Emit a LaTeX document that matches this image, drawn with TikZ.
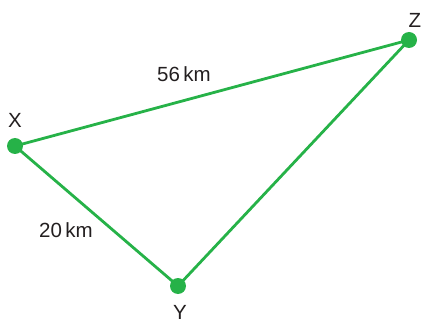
\documentclass[tikz,border=0pt]{standalone}
\usepackage{fontspec}
\setmainfont{Liberation Sans}
\definecolor{routegreen}{RGB}{38,178,72}
\definecolor{inkgray}{RGB}{35,31,32}

\begin{document}
\begin{tikzpicture}[x=1pt,y=-1pt,
    town/.style={circle,fill=routegreen,inner sep=0pt,minimum size=16pt},
    road/.style={routegreen,line width=2.8pt},
    txt/.style={inkgray,font=\fontsize{20.5}{24}\selectfont,inner sep=0pt}]

\useasboundingbox (0,0) rectangle (423,323);

\node[town] (X) at (15,146) {};
\node[town] (Y) at (178,286) {};
\node[town] (Z) at (409,40) {};

\draw[road] (X.center)--(Z.center);
\draw[road] (X.center)--(Y.center);
\draw[road] (Y.center)--(Z.center);

\node[txt] (Xl) at (15,120) {X};
\node[txt] (Yl) at (180,312) {Y};
\node[txt] (Zl) at (415,20) {Z};
\node[txt] (d1) at (184,74) {56\,km};
\node[txt] (d2) at (66,230) {20\,km};
\end{tikzpicture}
\end{document}
